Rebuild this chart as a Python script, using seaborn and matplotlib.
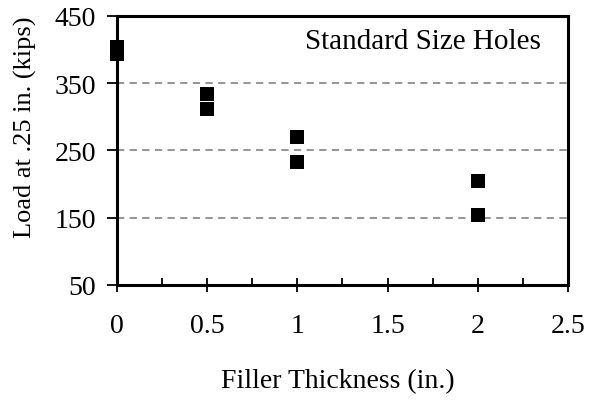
import matplotlib
matplotlib.use("Agg")
import matplotlib.pyplot as plt
import seaborn as sns
import pandas as pd
from matplotlib.ticker import MultipleLocator

thickness = [0, 0, 0.5, 0.5, 1.0, 1.0, 2.0, 2.0]
load = [404, 393, 334, 311, 270, 233, 204, 154]
x_ticks = [0, 0.5, 1, 1.5, 2, 2.5]
x_tick_labels = ["0", "0.5", "1", "1.5", "2", "2.5"]
y_ticks = [50, 150, 250, 350, 450]
y_grid = [150, 250, 350]

df = pd.DataFrame({"Filler Thickness (in.)": thickness, "Load": load})

sns.set_style("white")
plt.rcParams["font.family"] = ["Liberation Serif", "DejaVu Serif"]
plt.rcParams.update({"text.color": "black", "axes.labelcolor": "black",
                     "xtick.color": "black", "ytick.color": "black"})

fig = plt.figure(figsize=(5.93, 4.02), dpi=100)
ax = fig.add_axes([0.197, 0.289, 0.761, 0.669])

for g in y_grid:
    ax.axhline(g, color="#8c8c8c", lw=1.3, ls=(0, (4, 3)), zorder=0)

sns.scatterplot(data=df, x="Filler Thickness (in.)", y="Load", marker="s",
                s=112, color="black", edgecolor="black", linewidth=0, ax=ax,
                clip_on=False, zorder=3)

ax.set_xlim(0, 2.5)
ax.set_ylim(50, 450)
ax.set_xticks(x_ticks)
ax.set_xticklabels(x_tick_labels)
ax.set_yticks(y_ticks)
ax.xaxis.set_minor_locator(MultipleLocator(0.25))

for s in ax.spines.values():
    s.set_linewidth(2.2)
    s.set_color("black")

ax.tick_params(axis="x", which="major", direction="inout", length=10, width=1.3,
               labelsize=20, pad=15, bottom=True)
ax.tick_params(axis="x", which="minor", direction="in", length=5, width=1.3, bottom=True)
ax.tick_params(axis="y", which="major", direction="out", length=7, width=1.3,
               labelsize=20, pad=8, left=True)

ax.set_xlabel("Filler Thickness (in.)", fontsize=20)
ax.xaxis.label.set_va("center")
ax.xaxis.set_label_coords(0.49, -0.357)
ax.set_ylabel("Load at .25 in. (kips)", fontsize=19)
ax.yaxis.label.set_va("center")
ax.yaxis.set_label_coords(-0.202, 0.589)

ax.text(0.94, 0.905, "Standard Size Holes", transform=ax.transAxes,
        ha="right", va="center", fontsize=21)

fig.savefig("out.png", dpi=100)
